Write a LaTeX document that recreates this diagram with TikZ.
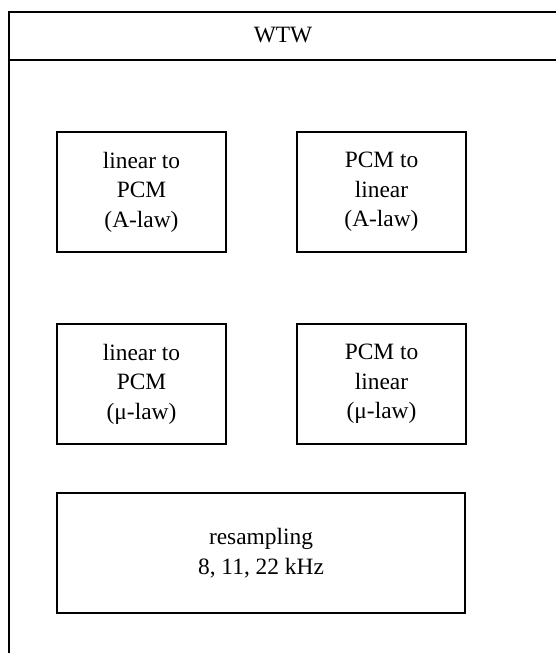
\documentclass[tikz,border=0pt]{standalone}
\usepackage{fontspec}
\setmainfont{Liberation Serif}
\begin{document}
\begin{tikzpicture}[x=1pt,y=-1pt,
  frame/.style={line width=1.3pt},
  block/.style={draw,line width=1.1pt,minimum width=169pt,minimum height=120pt,
    align=center,inner sep=0pt,font=\fontsize{23.4}{29.5}\selectfont},
  widebox/.style={block,minimum width=408pt},
  title/.style={font=\fontsize{23.4}{28}\selectfont}]
\useasboundingbox (0,0) rectangle (555,653);
% outer container with header band
\draw[frame] (560,12) -- (9,12) -- (9,660);
\draw[frame] (9,60) -- (560,60);
\node[title,anchor=base] (wtw) at (283,42) {WTW};
% codec blocks
\node[block] (linApcm) at (141.5,192) {linear to\\PCM\\(A-law)};
\node[block] (pcmAlin) at (381.5,192) {PCM to\\linear\\(A-law)};
\node[block] (linUpcm) at (141.5,384) {linear to\\PCM\\(μ-law)};
\node[block] (pcmUlin) at (381.5,384) {PCM to\\linear\\(μ-law)};
% resampler
\node[widebox] (resamp) at (261,553) {resampling\\8, 11, 22 kHz};
\end{tikzpicture}
\end{document}
